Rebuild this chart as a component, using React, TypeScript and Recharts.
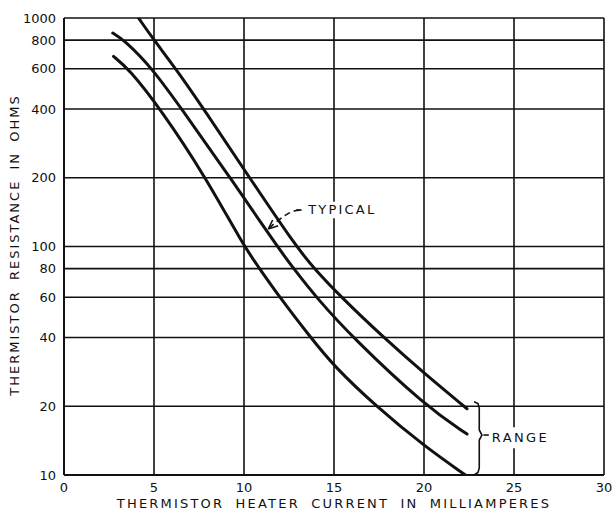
import { LineChart, Line, XAxis, YAxis, CartesianGrid, ReferenceArea, ReferenceLine, Label } from 'recharts'

// heater current (mA) vs thermistor resistance (ohms)
const currentTicks = [0, 5, 10, 15, 20, 25, 30]
const ohmTicks = [10, 20, 40, 60, 80, 100, 200, 400, 600, 800, 1000]

const highCurrent = [4.14, 5.0, 6.21, 7.76, 10.31, 12.89, 13.9, 15.4, 17.75, 20.0, 22.39]
const highOhms = [1000, 800, 600, 400, 200, 100, 80, 60, 40, 27.9, 19.5]

const typicalCurrent = [2.71, 3.35, 4.92, 6.53, 9.24, 11.84, 12.76, 14.0, 16.02, 20.09, 22.39]
const typicalOhms = [859, 800, 600, 400, 200, 100, 80, 60, 40, 20, 15.1]

const lowCurrent = [2.75, 3.59, 5.36, 7.89, 10.0, 10.87, 11.98, 13.7, 15.0, 17.33, 20.0, 22.3]
const lowOhms = [679, 600, 400, 200, 100, 80, 60, 40, 29.9, 20, 13.4, 10]

// annotation geometry (data units)
const leaderCurrent = [11.39, 11.78, 12.28, 12.78, 13.22]
const leaderOhms = [120.5, 128, 136.7, 143, 144.4]
const braceCurrent = [22.78, 23.0, 23.07, 23.07, 23.22, 23.07, 23.07, 23.0, 22.78]
const braceOhms = [20.93, 20.55, 19.64, 15.74, 14.96, 14.23, 10.73, 10.25, 10]

const pts = (xs: number[], ys: number[]) => xs.map((x, i) => ({ x, y: ys[i] }))

const FONT = '"DejaVu Sans", sans-serif'
const INK = '#111'

const tagText = (text: string, spacing: number) => ({ viewBox }: any) => (
  <text
    x={viewBox.x + 3}
    y={viewBox.y + viewBox.height / 2}
    dominantBaseline="central"
    fontFamily={FONT}
    fontSize={13}
    fill={INK}
    style={{ letterSpacing: `${spacing}px` }}
  >
    {text}
  </text>
)

export default function App() {
  const tick = { fontSize: 13, fill: INK, fontFamily: FONT }
  const curve = { stroke: INK, strokeWidth: 3, strokeLinecap: 'round' as const, dot: false, isAnimationActive: false }
  return (
    <div style={{ position: 'absolute', left: 0, top: 0, width: 614, height: 513, background: '#fff' }}>
      <LineChart width={614} height={513} margin={{ top: 18, right: 10, left: 0, bottom: 0 }}>
        <CartesianGrid stroke={INK} strokeWidth={1.6} />
        <XAxis
          type="number"
          dataKey="x"
          domain={[0, 30]}
          ticks={currentTicks}
          tick={tick}
          tickLine={false}
          axisLine={{ stroke: INK, strokeWidth: 2 }}
          height={38}
          allowDataOverflow
        />
        <YAxis
          type="number"
          dataKey="y"
          scale="log"
          domain={[10, 1000]}
          ticks={ohmTicks}
          tick={tick}
          tickLine={false}
          axisLine={{ stroke: INK, strokeWidth: 2 }}
          width={64}
          allowDataOverflow
          interval={0}
        />
        <ReferenceArea x1={13.4} x2={17.6} y1={133} y2={157} fill="#fff" fillOpacity={1} stroke="none" ifOverflow="visible">
          <Label content={tagText('TYPICAL', 2.2)} />
        </ReferenceArea>
        <ReferenceArea x1={23.6} x2={27.5} y1={13.1} y2={16.2} fill="#fff" fillOpacity={1} stroke="none" ifOverflow="visible">
          <Label content={tagText('RANGE', 2.4)} />
        </ReferenceArea>
        <ReferenceLine segment={[{ x: 12.9, y: 144.4 }, { x: 13.2, y: 144.4 }]} stroke={INK} strokeWidth={1.6} />
        <ReferenceLine segment={[{ x: 23.3, y: 14.96 }, { x: 23.6, y: 14.96 }]} stroke={INK} strokeWidth={1.6} />
        <ReferenceLine segment={[{ x: 11.35, y: 119.3 }, { x: 11.59, y: 130.6 }]} stroke={INK} strokeWidth={1.6} />
        <ReferenceLine segment={[{ x: 11.35, y: 119.3 }, { x: 11.9, y: 123.3 }]} stroke={INK} strokeWidth={1.6} />
        <Line data={pts(leaderCurrent, leaderOhms)} dataKey="y" type="monotone" stroke={INK} strokeWidth={1.6} strokeDasharray="6 4" dot={false} isAnimationActive={false} />
        <Line data={pts(braceCurrent, braceOhms)} dataKey="y" type="linear" stroke={INK} strokeWidth={1.6} dot={false} isAnimationActive={false} />
        <Line data={pts(highCurrent, highOhms)} dataKey="y" type="basis" {...curve} />
        <Line data={pts(typicalCurrent, typicalOhms)} dataKey="y" type="basis" {...curve} />
        <Line data={pts(lowCurrent, lowOhms)} dataKey="y" type="basis" {...curve} />
      </LineChart>
      <svg width={614} height={513} style={{ position: 'absolute', left: 0, top: 0, pointerEvents: 'none' }}>
        <text
          x={334}
          y={503}
          textAnchor="middle"
          dominantBaseline="central"
          fontFamily={FONT}
          fontSize={13}
          fill={INK}
          style={{ letterSpacing: '2.2px', wordSpacing: '5px' }}
        >
          THERMISTOR HEATER CURRENT IN MILLIAMPERES
        </text>
        <text
          x={14}
          y={245}
          transform="rotate(-90 14 245)"
          textAnchor="middle"
          dominantBaseline="central"
          fontFamily={FONT}
          fontSize={13}
          fill={INK}
          style={{ letterSpacing: '2px', wordSpacing: '4px' }}
        >
          THERMISTOR RESISTANCE IN OHMS
        </text>
      </svg>
    </div>
  )
}
